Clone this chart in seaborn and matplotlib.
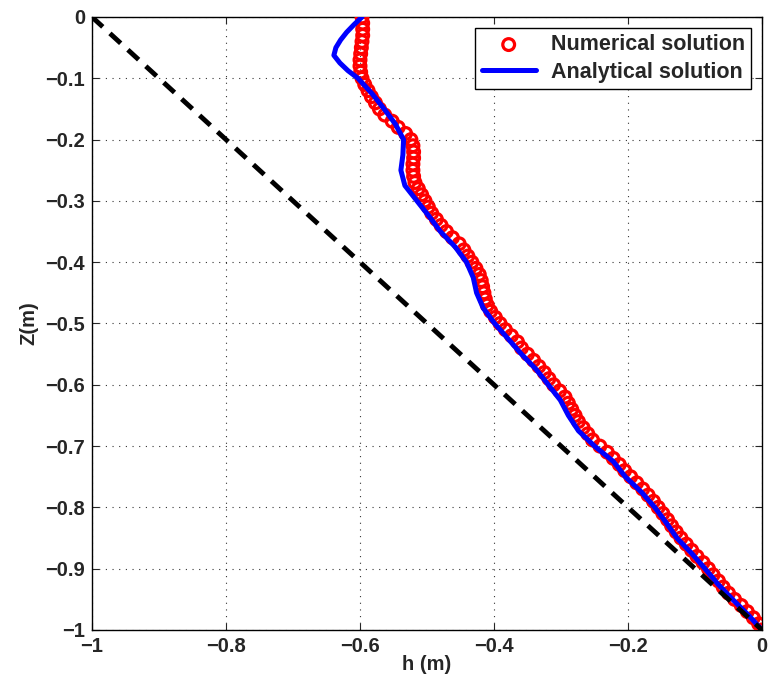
import matplotlib
matplotlib.use("Agg")
import matplotlib.pyplot as plt
import seaborn as sns
import pandas as pd

# Analytical solution (blue line)
z_ana = [0.0, -0.0125, -0.025, -0.0375, -0.05, -0.0625, -0.075, -0.0875, -0.1,
         -0.125, -0.15, -0.175, -0.2, -0.225, -0.25, -0.275, -0.3, -0.325, -0.35,
         -0.375, -0.4, -0.425, -0.45, -0.475, -0.5, -0.525, -0.55, -0.575, -0.6,
         -0.625, -0.65, -0.675, -0.7, -0.725, -0.75, -0.775, -0.8, -0.825, -0.85,
         -0.875, -0.9, -0.925, -0.95, -0.975, -1.0]
h_ana = [-0.597, -0.609, -0.620, -0.629, -0.636, -0.639, -0.630, -0.618, -0.603,
         -0.582, -0.564, -0.547, -0.535, -0.536, -0.539, -0.533, -0.515, -0.497, -0.480,
         -0.458, -0.441, -0.431, -0.426, -0.416, -0.399, -0.379, -0.359, -0.337, -0.319,
         -0.301, -0.289, -0.274, -0.250, -0.222, -0.204, -0.180, -0.160, -0.143, -0.127,
         -0.105, -0.085, -0.066, -0.044, -0.021, 0.000]

# Numerical solution (red circles), one value per 0.01 of depth
z_num = [-i / 100 for i in range(101)]
h_num = [-0.597, -0.596, -0.596, -0.596, -0.597, -0.598, -0.599, -0.600, -0.600, -0.599,
         -0.597, -0.593, -0.588, -0.583, -0.577, -0.571, -0.563, -0.552, -0.543, -0.532,
         -0.524, -0.521, -0.520, -0.520, -0.521, -0.521, -0.520, -0.518, -0.513, -0.508,
         -0.503, -0.498, -0.493, -0.486, -0.479, -0.471, -0.462, -0.452, -0.445, -0.439,
         -0.433, -0.427, -0.422, -0.419, -0.417, -0.415, -0.413, -0.410, -0.405, -0.398,
         -0.391, -0.383, -0.374, -0.365, -0.359, -0.350, -0.341, -0.333, -0.325, -0.318,
         -0.311, -0.302, -0.294, -0.289, -0.284, -0.279, -0.274, -0.267, -0.260, -0.253,
         -0.242, -0.231, -0.222, -0.213, -0.205, -0.196, -0.187, -0.178, -0.170, -0.162,
         -0.155, -0.148, -0.141, -0.135, -0.128, -0.121, -0.113, -0.105, -0.097, -0.088,
         -0.080, -0.073, -0.065, -0.058, -0.050, -0.041, -0.031, -0.022, -0.013, -0.005,
         0.000]

# Reference dashed line
h_ref = [-1.0, 0.0]
z_ref = [0.0, -1.0]

sns.set_style("ticks")
plt.rcParams["font.family"] = ["Liberation Sans", "DejaVu Sans"]
plt.rcParams["font.weight"] = "bold"

df_num = pd.DataFrame({"h": h_num, "z": z_num})
df_ana = pd.DataFrame({"h": h_ana, "z": z_ana})
df_ref = pd.DataFrame({"h": h_ref, "z": z_ref})

fig = plt.figure(figsize=(7.68, 6.91), dpi=100)
ax = fig.add_axes([0.1198, 0.0883, 0.8724, 0.8871])

sns.scatterplot(data=df_num, x="h", y="z", ax=ax, marker="o", s=72,
                facecolors="none", edgecolor="red", linewidth=2.3,
                label="Numerical solution", zorder=3)
sns.lineplot(data=df_ana, x="h", y="z", ax=ax, sort=False, estimator=None,
             color="blue", linewidth=3.6, label="Analytical solution", zorder=4)
sns.lineplot(data=df_ref, x="h", y="z", ax=ax, sort=False, estimator=None,
             color="black", linewidth=3.5, dashes=False, zorder=5)
ax.lines[-1].set_dashes((3, 2))

ax.set_xlim(-1, 0)
ax.set_ylim(-1, 0)
ax.set_xticks([-1, -0.8, -0.6, -0.4, -0.2, 0])
ax.set_xticklabels(["\u22121", "\u22120.8", "\u22120.6", "\u22120.4", "\u22120.2", "0"])
yt = [-1, -0.9, -0.8, -0.7, -0.6, -0.5, -0.4, -0.3, -0.2, -0.1, 0]
ax.set_yticks(yt)
ax.set_yticklabels(["\u22121"] + ["\u22120.%d" % k for k in range(9, 0, -1)] + ["0"])
ax.tick_params(direction="in", top=True, right=True, labelsize=14.5, length=5,
               width=0.8, pad=5)
for lab in ax.get_xticklabels() + ax.get_yticklabels():
    lab.set_fontweight("bold")
ax.grid(True, linestyle=(0, (1, 5)), color="black", linewidth=0.8, alpha=0.8)
for sp in ax.spines.values():
    sp.set_linewidth(1.0)
    sp.set_color("black")

ax.set_xlabel("h (m)", fontsize=14.5, fontweight="bold", labelpad=-1)
ax.set_ylabel("Z(m)", fontsize=14.5, fontweight="bold", labelpad=5)

leg = ax.legend(loc="upper right", fontsize=15.5, frameon=True, fancybox=False,
                edgecolor="black", framealpha=1, borderaxespad=0.5,
                handlelength=2.5, handletextpad=0.7, borderpad=0.3,
                labelspacing=0.3, markerscale=1.0)
leg.get_frame().set_linewidth(1.0)
for t in leg.get_texts():
    t.set_fontweight("bold")

fig.savefig("out.png", dpi=100)
plt.close(fig)
